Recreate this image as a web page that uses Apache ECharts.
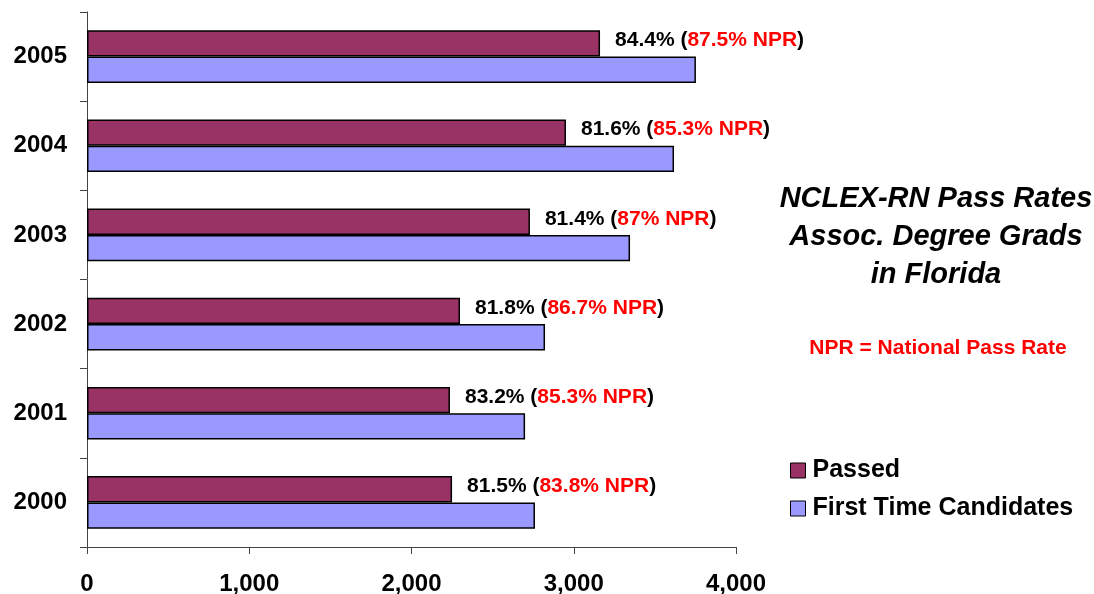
<!DOCTYPE html>
<html>
<head>
<meta charset="utf-8">
<script src="https://cdn.jsdelivr.net/npm/echarts@6/dist/echarts.min.js"></script>
<style>html,body{margin:0;padding:0;background:#fff}#c{width:1094px;height:594px}</style>
</head>
<body>
<div id="c"></div>
<script>
var years = ['2000', '2001', '2002', '2003', '2004', '2005'];
var passed = [2250, 2237, 2299, 2730, 2952, 3162];
var firstTime = [2761, 2700, 2823, 3347, 3618, 3753];
var passRate = ['81.5%', '83.2%', '81.8%', '81.4%', '81.6%', '84.4%'];
var nationalRate = ['83.8%', '85.3%', '86.7%', '87%', '85.3%', '87.5%'];
var xTicks = [0, 1000, 2000, 3000, 4000];

var FONT = '"Liberation Sans", Arial, sans-serif';
var chart = echarts.init(document.getElementById('c'), null, {renderer: 'canvas'});
chart.setOption({
  animation: false,
  backgroundColor: '#fff',
  textStyle: {fontFamily: FONT},
  title: [{
    text: 'NCLEX-RN Pass Rates\nAssoc. Degree Grads\nin Florida',
    left: 931, top: 175, textAlign: 'center',
    textStyle: {fontFamily: FONT, fontSize: 29, fontWeight: 'bold', fontStyle: 'italic', color: '#000', lineHeight: 38}
  }, {
    text: 'NPR = National Pass Rate',
    left: 933, top: 333, textAlign: 'center',
    textStyle: {fontFamily: FONT, fontSize: 21, fontWeight: 'bold', color: '#ff0000'}
  }],
  legend: {
    orient: 'vertical', left: 785, top: 453, itemGap: 13,
    itemWidth: 15, itemHeight: 15, icon: 'rect',
    data: ['Passed', 'First Time Candidates'],
    itemStyle: {borderColor: '#000', borderWidth: 1},
    textStyle: {fontFamily: FONT, fontSize: 25, fontWeight: 'bold', color: '#000', padding: [0, 0, 0, 2]}
  },
  grid: {left: 87, right: 358, top: 12, bottom: 47, containLabel: false, outerBoundsMode: 'none'},
  xAxis: {
    type: 'value', min: xTicks[0], max: xTicks[xTicks.length - 1], interval: 1000,
    splitLine: {show: false},
    axisLine: {show: true, lineStyle: {color: '#444', width: 1}},
    axisTick: {show: true, length: 7, lineStyle: {color: '#444'}},
    axisLabel: {margin: 25, fontFamily: FONT, fontSize: 24, fontWeight: 'bold', color: '#000',
      formatter: function (v) { return v.toLocaleString('en-US'); }}
  },
  yAxis: {
    type: 'category', data: years,
    axisLine: {show: true, lineStyle: {color: '#444', width: 1}},
    axisTick: {show: true, length: 7, lineStyle: {color: '#444'}},
    axisLabel: {margin: 20, fontFamily: FONT, fontSize: 24, fontWeight: 'bold', color: '#000'}
  },
  series: [{
    name: 'Passed', type: 'bar', data: passed,
    barGap: '0%', barCategoryGap: '41%',
    itemStyle: {color: '#993366', borderColor: '#000', borderWidth: 1.5},
    label: {
      show: true, position: 'right', distance: 15, offset: [0, -3],
      formatter: function (p) {
        return '{a|' + passRate[p.dataIndex] + ' (}{b|' + nationalRate[p.dataIndex] + ' NPR}{a|)}';
      },
      rich: {
        a: {fontFamily: FONT, fontSize: 21, fontWeight: 'bold', color: '#000'},
        b: {fontFamily: FONT, fontSize: 21, fontWeight: 'bold', color: '#ff0000'}
      }
    }
  }, {
    name: 'First Time Candidates', type: 'bar', data: firstTime,
    barGap: '0%', barCategoryGap: '41%',
    itemStyle: {color: '#9999ff', borderColor: '#000', borderWidth: 1.5}
  }]
});
</script>
</body>
</html>
